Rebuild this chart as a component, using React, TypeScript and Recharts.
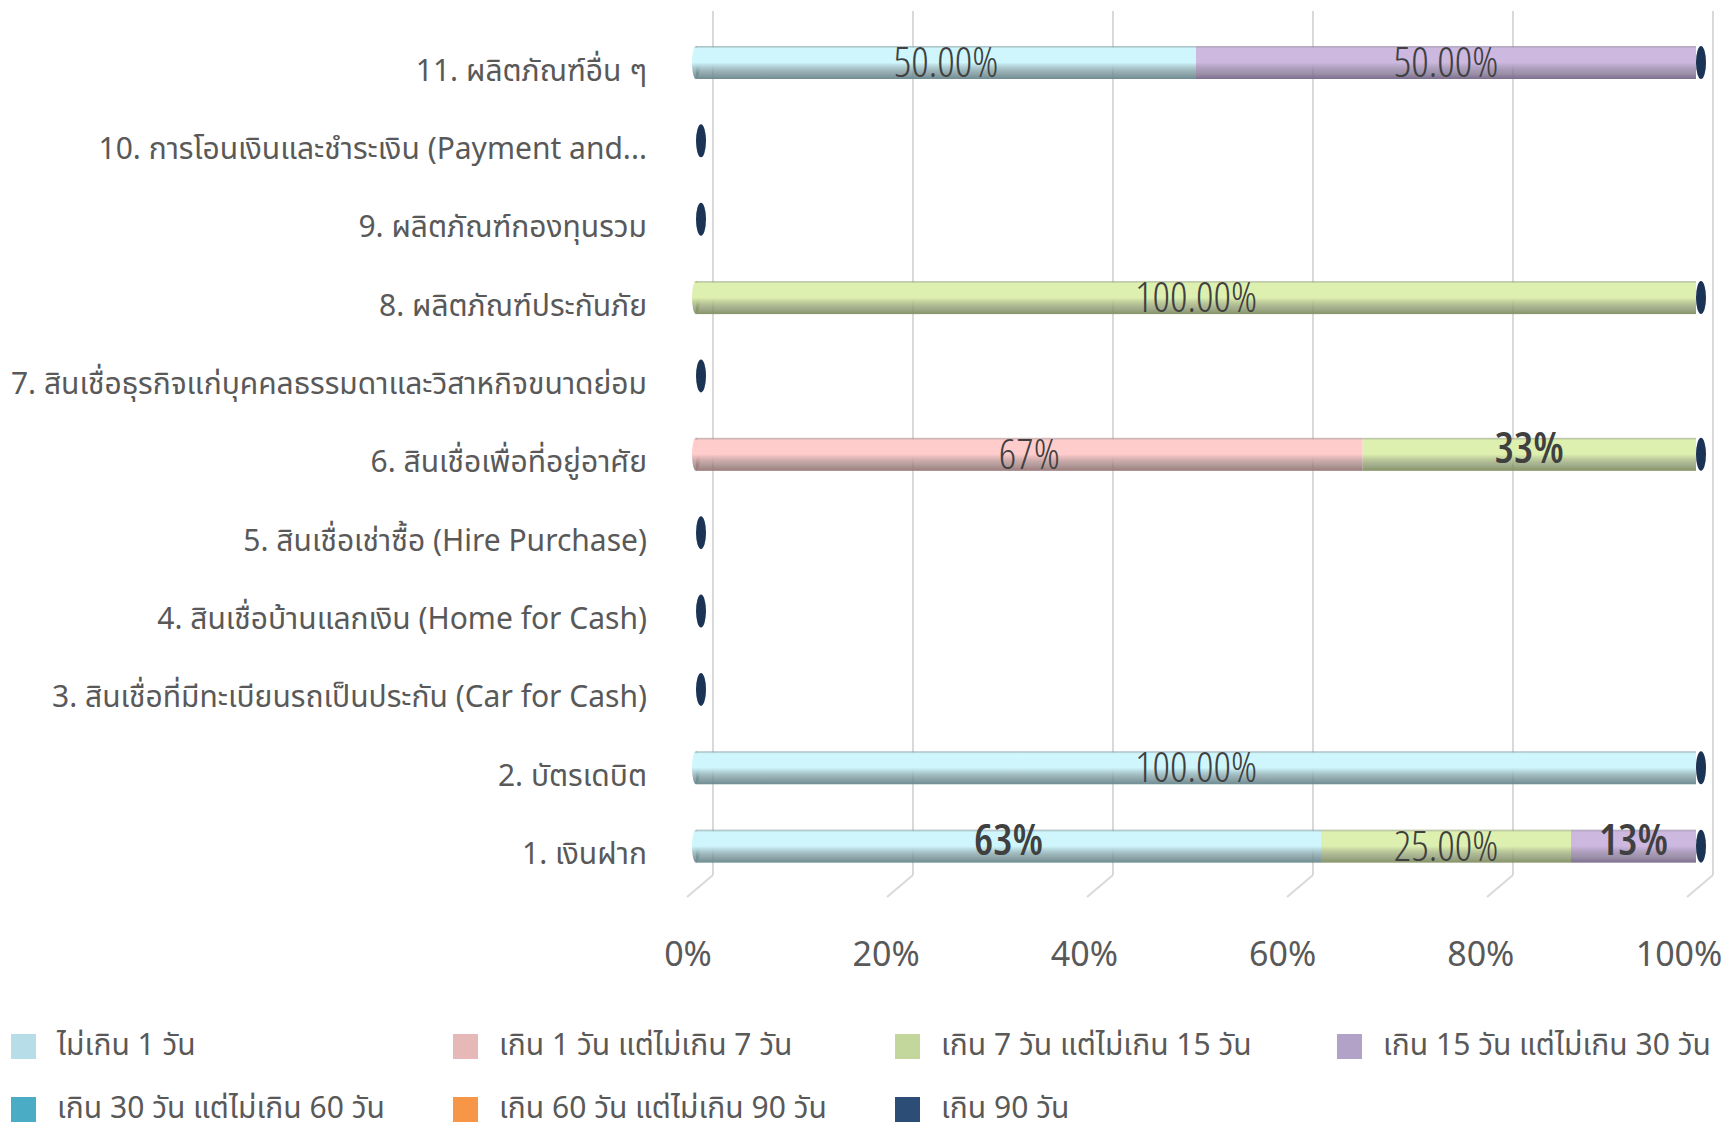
import React from 'react';
import { BarChart, Bar, XAxis, YAxis, CartesianGrid, LabelList } from 'recharts';

const categories = [
  '1. เงินฝาก',
  '2. บัตรเดบิต',
  '3. สินเชื่อที่มีทะเบียนรถเป็นประกัน (Car for Cash)',
  '4. สินเชื่อบ้านแลกเงิน (Home for Cash)',
  '5. สินเชื่อเช่าซื้อ (Hire Purchase)',
  '6. สินเชื่อเพื่อที่อยู่อาศัย',
  '7. สินเชื่อธุรกิจแก่บุคคลธรรมดาและวิสาหกิจขนาดย่อม',
  '8. ผลิตภัณฑ์ประกันภัย',
  '9. ผลิตภัณฑ์กองทุนรวม',
  '10. การโอนเงินและชำระเงิน (Payment and...',
  '11. ผลิตภัณฑ์อื่น ๆ',
];

const seriesNames = [
  'ไม่เกิน 1 วัน',
  'เกิน 1 วัน แต่ไม่เกิน 7 วัน',
  'เกิน 7 วัน แต่ไม่เกิน 15 วัน',
  'เกิน 15 วัน แต่ไม่เกิน 30 วัน',
  'เกิน 30 วัน แต่ไม่เกิน 60 วัน',
  'เกิน 60 วัน แต่ไม่เกิน 90 วัน',
  'เกิน 90 วัน',
];

// percent of complaints per row, rows 1..11
const upTo1Day = [62.5, 100, 0, 0, 0, 0, 0, 0, 0, 0, 50];
const from1To7 = [0, 0, 0, 0, 0, 66.67, 0, 0, 0, 0, 0];
const from7To15 = [25, 0, 0, 0, 0, 33.33, 0, 100, 0, 0, 0];
const from15To30 = [12.5, 0, 0, 0, 0, 0, 0, 0, 0, 0, 50];
const from30To60 = [0, 0, 0, 0, 0, 0, 0, 0, 0, 0, 0];
const from60To90 = [0, 0, 0, 0, 0, 0, 0, 0, 0, 0, 0];
const over90 = [0, 0, 0, 0, 0, 0, 0, 0, 0, 0, 0];

// data label text as printed on the bars
const upTo1DayLabels = ['63%', '100.00%', '', '', '', '', '', '', '', '', '50.00%'];
const from1To7Labels = ['', '', '', '', '', '67%', '', '', '', '', ''];
const from7To15Labels = ['25.00%', '', '', '', '', '33%', '', '100.00%', '', '', ''];
const from15To30Labels = ['13%', '', '', '', '', '', '', '', '', '', '50.00%'];
const boldLabels = ['63%', '33%', '13%'];

const xTicks = [0, 20, 40, 60, 80, 100];

const legendColors = ['#B7DEE8', '#E6B9B8', '#C3D69B', '#B3A2C7', '#4BACC6', '#F79646', '#2C4D75'];
const barLight = ['#CFF6FC', '#FFCCCC', '#DDF0B0', '#CDB8E0', '#7CCBE0', '#FBB27A', '#3A5E8C'];
const barDark = ['#6F8D93', '#9C7C7C', '#869468', '#7E6F8F', '#3C7F92', '#A8642E', '#1B3355'];

const keys = ['d1', 'd7', 'd15', 'd30', 'd60', 'd90', 'over'];

const data = categories.map((name, i) => ({
  name,
  d1: upTo1Day[i],
  d7: from1To7[i],
  d15: from7To15[i],
  d30: from15To30[i],
  d60: from30To60[i],
  d90: from60To90[i],
  over: over90[i],
  d1Label: upTo1DayLabels[i],
  d7Label: from1To7Labels[i],
  d15Label: from7To15Labels[i],
  d30Label: from15To30Labels[i],
}));

const FONT = "Tahoma, 'Noto Sans Thai', 'Noto Sans', 'DejaVu Sans', sans-serif";
const GRAY = '#595959';

const CylinderShape = (props: any) => {
  const { x, y, width, height, fill, background } = props;
  if (!width || width <= 0.5) return null;
  const atStart = background && Math.abs(x - background.x) < 1;
  return (
    <g>
      <rect x={x} y={y} width={width} height={height} fill={fill} />
      {atStart && <ellipse cx={x} cy={y + height / 2} rx={4} ry={height / 2} fill={fill} />}
    </g>
  );
};

const CapShape = (props: any) => {
  const { x, y, width, height } = props;
  const h = height || 33;
  const w = width || 0;
  return <ellipse cx={x + w + (w > 0 ? 1 : 5)} cy={y + h / 2} rx={5} ry={h / 2} fill="#1B3355" />;
};

const BarLabel = (props: any) => {
  const { x, y, width, height, value } = props;
  if (!value) return null;
  const bold = boldLabels.includes(value);
  return (
    <text
      x={x + width / 2}
      y={y + height / 2 + (bold ? -3 : 3)}
      textAnchor="middle"
      dominantBaseline="middle"
      fontFamily="'Open Sans', 'DejaVu Sans Condensed', sans-serif"
      fontSize={43}
      fontWeight={bold ? 600 : 300}
      fill="#404040"
      style={{ fontStretch: '75%' }}
    >
      {value}
    </text>
  );
};

const CategoryTick = (props: any) => {
  const { x, y, payload } = props;
  return (
    <text x={x} y={y + 10} textAnchor="end" dominantBaseline="middle" fontFamily={FONT} fontSize={30} fill={GRAY}>
      {payload.value}
    </text>
  );
};

const FloorTick = (props: any) => {
  const { x, y, payload } = props;
  return (
    <g>
      <line x1={x + 17} y1={y - 10} x2={x - 9} y2={y + 12} stroke="#D9D9D9" strokeWidth={2} />
      <text
        x={x - 8 - payload.value * 0.09}
        y={y + 72}
        textAnchor="middle"
        dominantBaseline="middle"
        fontFamily={FONT}
        fontSize={34}
        fill={GRAY}
      >
        {`${payload.value}%`}
      </text>
    </g>
  );
};

const Legend = () => (
  <div style={{ position: 'absolute', left: 0, top: 0, width: 1726, height: 1134, pointerEvents: 'none' }}>
    {seriesNames.map((name, i) => {
      const col = i % 4;
      const row = Math.floor(i / 4);
      return (
        <div
          key={name}
          style={{
            position: 'absolute',
            left: 11 + col * 442,
            top: 1029 + row * 63,
            height: 34,
            display: 'flex',
            alignItems: 'center',
            fontFamily: FONT,
            fontSize: 30,
            lineHeight: '34px',
            color: GRAY,
            whiteSpace: 'nowrap',
          }}
        >
          <span style={{ width: 25, height: 25, background: legendColors[i], marginRight: 21, display: 'inline-block' }} />
          {name}
        </div>
      );
    })}
  </div>
);

export default function App() {
  return (
    <div style={{ position: 'absolute', left: 0, top: 0, width: 1726, height: 1134, background: '#fff', overflow: 'hidden' }}>
      <BarChart
        width={1726}
        height={1134}
        data={data}
        layout="vertical"
        margin={{ top: 23, right: 30, bottom: 149, left: 0 }}
        barSize={33}
      >
        <defs>
          {keys.map((k, i) => (
            <linearGradient key={k} id={`cyl-${k}`} x1="0" y1="0" x2="0" y2="1">
              <stop offset="0%" stopColor={barDark[i]} stopOpacity={0.55} />
              <stop offset="7%" stopColor={barLight[i]} />
              <stop offset="50%" stopColor={barLight[i]} />
              <stop offset="82%" stopColor={barDark[i]} stopOpacity={0.75} />
              <stop offset="100%" stopColor={barDark[i]} />
            </linearGradient>
          ))}
        </defs>
        <CartesianGrid
          horizontal={false}
          stroke="#D9D9D9"
          strokeWidth={2}
          y={11}
          height={864}
          verticalCoordinatesGenerator={({ offset }: any) => xTicks.map((t) => offset.left + (t / 100) * offset.width + 17)}
        />
        <XAxis
          type="number"
          domain={[0, 100]}
          ticks={xTicks}
          axisLine={false}
          tickLine={false}
          tickSize={0}
          tickMargin={0}
          height={100}
          tick={<FloorTick />}
          interval={0}
        />
        <YAxis
          type="category"
          dataKey="name"
          reversed
          width={696}
          axisLine={false}
          tickLine={false}
          tickSize={0}
          tickMargin={49}
          tick={<CategoryTick />}
          interval={0}
        />
        {keys.map((k, i) => (
          <Bar
            key={k}
            dataKey={k}
            name={seriesNames[i]}
            stackId="a"
            fill={`url(#cyl-${k})`}
            shape={k === 'over' ? <CapShape /> : <CylinderShape />}
            isAnimationActive={false}
          >
            {i < 4 && <LabelList dataKey={`${k}Label`} content={<BarLabel />} />}
          </Bar>
        ))}
      </BarChart>
      <Legend />
    </div>
  );
}
